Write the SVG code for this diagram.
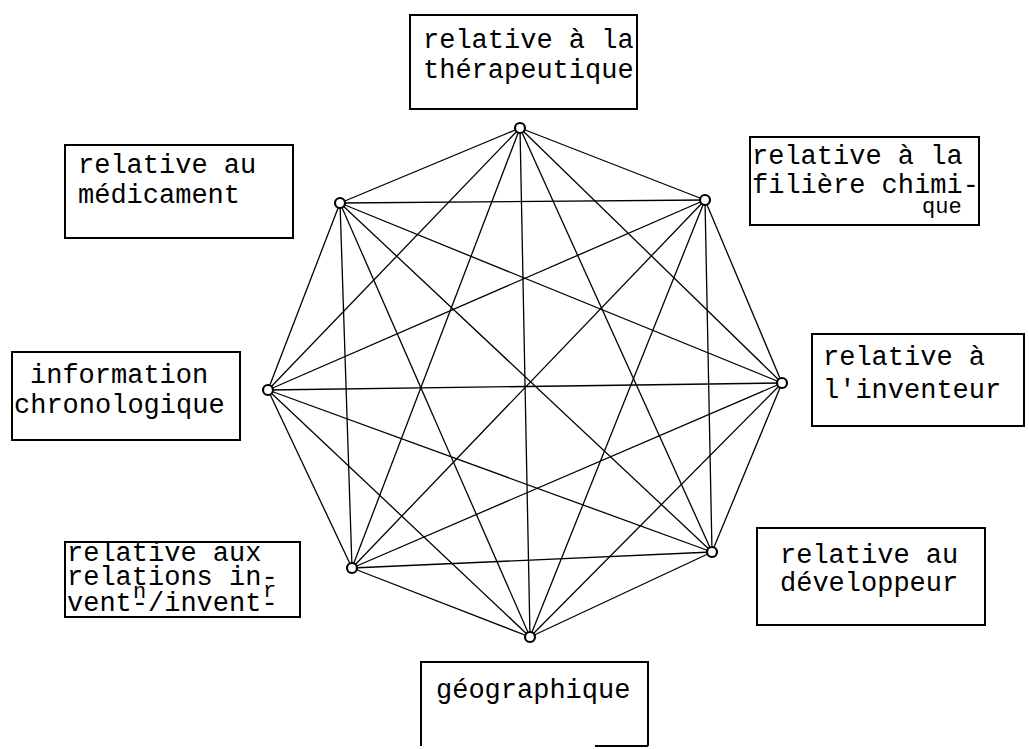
<svg xmlns="http://www.w3.org/2000/svg" width="1029" height="749" viewBox="0 0 1029 749">
<style>
.box{fill:#fff;stroke:#000;stroke-width:2}
.t{font-family:"Liberation Mono","DejaVu Sans Mono",monospace;font-size:27px;fill:#000}
.s{font-size:22px}
.e line{stroke:#000;stroke-width:1.3}
.v{fill:#fff;stroke:#000;stroke-width:2.2}
</style>
<rect width="1029" height="749" fill="#fff"/>
<g id="connectors" class="e">
<line x1="520" y1="128" x2="705" y2="200"/>
<line x1="520" y1="128" x2="782" y2="383"/>
<line x1="520" y1="128" x2="712" y2="552"/>
<line x1="520" y1="128" x2="530" y2="637"/>
<line x1="520" y1="128" x2="352" y2="568"/>
<line x1="520" y1="128" x2="268" y2="390"/>
<line x1="520" y1="128" x2="340" y2="203"/>
<line x1="705" y1="200" x2="782" y2="383"/>
<line x1="705" y1="200" x2="712" y2="552"/>
<line x1="705" y1="200" x2="530" y2="637"/>
<line x1="705" y1="200" x2="352" y2="568"/>
<line x1="705" y1="200" x2="268" y2="390"/>
<line x1="705" y1="200" x2="340" y2="203"/>
<line x1="782" y1="383" x2="712" y2="552"/>
<line x1="782" y1="383" x2="530" y2="637"/>
<line x1="782" y1="383" x2="352" y2="568"/>
<line x1="782" y1="383" x2="268" y2="390"/>
<line x1="782" y1="383" x2="340" y2="203"/>
<line x1="712" y1="552" x2="530" y2="637"/>
<line x1="712" y1="552" x2="352" y2="568"/>
<line x1="712" y1="552" x2="268" y2="390"/>
<line x1="712" y1="552" x2="340" y2="203"/>
<line x1="530" y1="637" x2="352" y2="568"/>
<line x1="530" y1="637" x2="268" y2="390"/>
<line x1="530" y1="637" x2="340" y2="203"/>
<line x1="352" y1="568" x2="268" y2="390"/>
<line x1="352" y1="568" x2="340" y2="203"/>
<line x1="268" y1="390" x2="340" y2="203"/>
</g>
<g id="vertices">
<circle class="v" cx="520" cy="128" r="5"/>
<circle class="v" cx="705" cy="200" r="5"/>
<circle class="v" cx="782" cy="383" r="5"/>
<circle class="v" cx="712" cy="552" r="5"/>
<circle class="v" cx="530" cy="637" r="5"/>
<circle class="v" cx="352" cy="568" r="5"/>
<circle class="v" cx="268" cy="390" r="5"/>
<circle class="v" cx="340" cy="203" r="5"/>
</g>
<g id="n-therapeutique">
<rect class="box" x="410" y="15" width="227" height="94"/>
<text class="t" x="423" y="48">relative à la</text>
<text class="t" x="423" y="78">thérapeutique</text>
</g>
<g id="n-medicament">
<rect class="box" x="65" y="145" width="228" height="93"/>
<text class="t" x="78" y="173">relative au</text>
<text class="t" x="78" y="203">médicament</text>
</g>
<g id="n-filiere">
<rect class="box" x="750" y="137" width="229" height="88"/>
<text class="t" x="752" y="164">relative à la</text>
<text class="t" x="752" y="193">filière chimi-</text>
<text class="t s" x="922" y="213">que</text>
</g>
<g id="n-inventeur">
<rect class="box" x="812" y="334" width="212" height="92"/>
<text class="t" x="823" y="365">relative à</text>
<text class="t" x="823" y="398">l'inventeur</text>
</g>
<g id="n-chronologique">
<rect class="box" x="12" y="352" width="228" height="88"/>
<text class="t" x="30" y="383">information</text>
<text class="t" x="14" y="413">chronologique</text>
</g>
<g id="n-relations">
<rect class="box" x="65" y="542" width="235" height="75"/>
<text class="t" x="67" y="561">relative aux</text>
<text class="t" x="67" y="585">relations in-</text>
<text class="t" y="611"><tspan x="67">vent-/invent-</tspan><tspan class="s" x="133" y="598">n</tspan><tspan class="s" x="263" y="597">r</tspan></text>
</g>
<g id="n-developpeur">
<rect class="box" x="757" y="528" width="228" height="97"/>
<text class="t" x="780" y="563">relative au</text>
<text class="t" x="780" y="591">développeur</text>
</g>
<g id="n-geographique">
<path class="box" d="M421,746 V662 H648 V746" fill="none"/>
<line x1="595" y1="746" x2="648" y2="746" stroke="#000" stroke-width="2"/>
<text class="t" x="436" y="698">géographique</text>
</g>
</svg>
